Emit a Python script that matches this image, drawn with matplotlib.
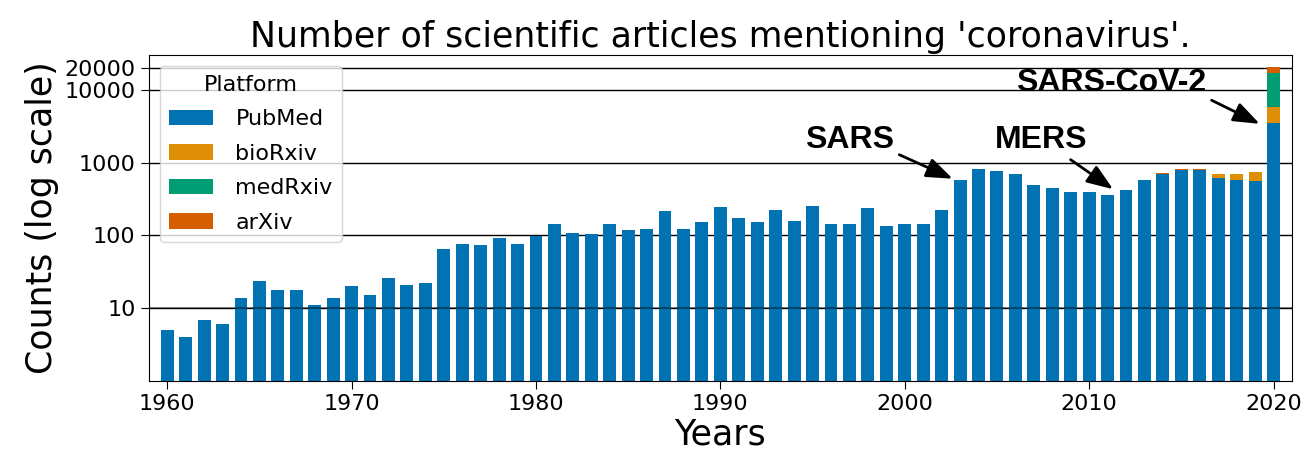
import numpy as np
import matplotlib.pyplot as plt

years = list(range(1960, 2021))
pubmed = [5, 4, 7, 6, 14, 24, 18, 18, 11, 14,
          20, 15, 26, 21, 22, 66, 77, 73, 91, 75,
          98, 145, 109, 105, 145, 120, 122, 213, 124, 155,
          245, 172, 152, 222, 156, 253, 145, 145, 235, 136,
          145, 142, 222, 581, 826, 755, 703, 490, 450, 395,
          395, 356, 421, 577, 700, 791, 791, 605, 568, 550,
          3480]
biorxiv = [0] * 53 + [3, 4, 6, 6, 100, 135, 183, 2320]
medrxiv = [0] * 60 + [11000]
arxiv = [0] * 53 + [4, 15, 8, 10, 0, 0, 0, 4000]

platforms = ['PubMed', 'bioRxiv', 'medRxiv', 'arXiv']
colors = ['#0173B2', '#DE8F05', '#029E73', '#D55E00']
yticks = [10, 100, 1000, 10000, 20000]

fig, ax = plt.subplots(figsize=(13.05, 4.58), dpi=100)
fig.subplots_adjust(left=0.114, right=0.990, top=0.880, bottom=0.168)

bottom = np.zeros(len(years))
for name, vals, c in zip(platforms, [pubmed, biorxiv, medrxiv, arxiv], colors):
    vals = np.array(vals, dtype=float)
    ax.bar(years, vals, width=0.7, bottom=bottom, color=c, label=name, zorder=2)
    bottom += vals

ax.set_yscale('log')
ax.set_ylim(1, 30000)
ax.set_xlim(1959, 2021)
ax.set_yticks(yticks)
ax.set_yticklabels([str(t) for t in yticks])
ax.minorticks_off()
for t in yticks:
    ax.axhline(t, color='black', lw=1, zorder=1)
# the 10 line shows through the bars in the original
ax.axhline(10, color='black', lw=1.2, alpha=0.5, zorder=3)

ax.set_xticks(range(1960, 2021, 10))
ax.tick_params(labelsize=16, length=6)
ax.set_title("Number of scientific articles mentioning 'coronavirus'.", fontsize=25)
ax.set_xlabel('Years', fontsize=25, labelpad=2)
ax.set_ylabel('Counts (log scale)', fontsize=25)

leg = ax.legend(title='Platform', loc='upper left', fontsize=16, title_fontsize=16,
                labelspacing=0.65, handletextpad=1.0)

arrow = dict(arrowstyle='-|>,head_length=0.8,head_width=0.3', color='black', lw=2,
             mutation_scale=20, shrinkA=2, shrinkB=0)
font = dict(fontsize=23, fontweight='bold', family='Liberation Sans')
ax.annotate('SARS', xy=(2002.6, 600), xytext=(1997.0, 2020), ha='center', va='center',
            arrowprops=dict(arrow, relpos=(1.0, 0.1)), **font)
ax.annotate('MERS', xy=(2011.3, 430), xytext=(2007.4, 2020), ha='center', va='center',
            arrowprops=dict(arrow, relpos=(0.75, 0.0)), **font)
ax.annotate('SARS-CoV-2', xy=(2019.25, 3400), xytext=(2011.2, 12500), ha='center',
            va='center', arrowprops=dict(arrow, relpos=(1.0, 0.0)), **font)

fig.savefig('out.png', dpi=100)
